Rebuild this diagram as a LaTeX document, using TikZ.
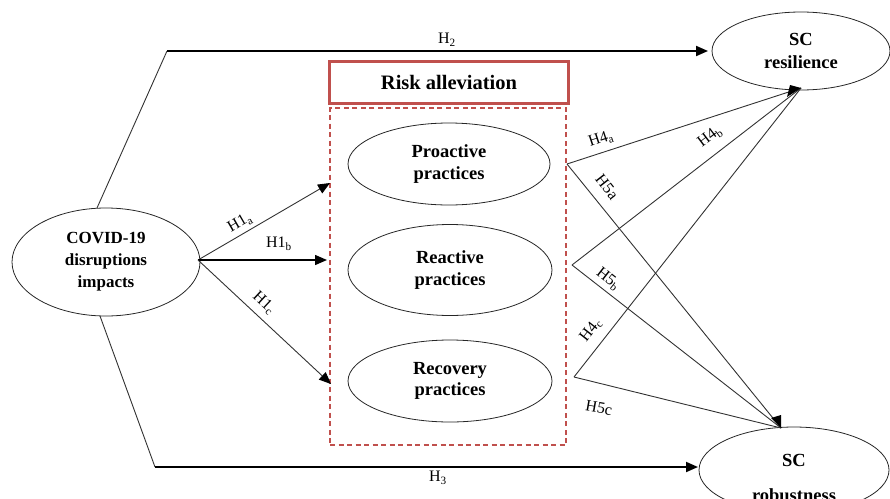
\documentclass[tikz,border=0pt]{standalone}
\usepackage{fontspec}
\setmainfont{Liberation Serif}
\usetikzlibrary{shapes.geometric,arrows.meta}
\definecolor{riskred}{RGB}{192,80,77}
\definecolor{lingray}{RGB}{50,50,50}
\tikzset{
  ell/.style={draw=black!85, line width=0.8pt, ellipse, inner sep=0pt, align=center, font=\bfseries\fontsize{18.5}{21.5}\selectfont},
  thin/.style={draw=lingray, line width=0.9pt},
  thick/.style={draw=black, line width=1.9pt},
  tipa/.style={-{Triangle[length=12pt,width=10pt,color=black]}},
  lab/.style={font=\fontsize{16}{18}\selectfont, inner sep=1pt},
  etext/.style={font=\bfseries\fontsize{18.5}{21.5}\selectfont, inner sep=0pt}
}
\begin{document}
\begin{tikzpicture}[x=1pt,y=-1pt]
\useasboundingbox (0,0) rectangle (890,498);
\clip (0,0) rectangle (890,498);
% nodes
\node[ell, minimum width=188pt, minimum height=108pt, font=\bfseries\fontsize{17}{22}\selectfont] (covid) at (106,262) {COVID-19\\disruptions\\impacts};
\node[ell, minimum width=178pt, minimum height=78pt, font=\bfseries\fontsize{18.5}{23}\selectfont] (res) at (801,51) {SC\\resilience};
\node[ell, minimum width=190pt, minimum height=86pt] (rob) at (794,470) {};
\node[etext, anchor=base] (robsc) at (794,466) {SC};
\node[etext, anchor=base] (robtx) at (794,501) {robustness};
\node[ell, minimum width=202pt, minimum height=82pt] (pro) at (449,164) {Proactive\\practices};
\node[ell, minimum width=204pt, minimum height=91pt] (rea) at (450,270) {Reactive\\practices};
\node[ell, minimum width=204pt, minimum height=82pt] (rec) at (450,381) {Recovery\\practices};
% risk alleviation boxes
\node[draw=riskred, line width=3pt, minimum width=239pt, minimum height=42pt, inner sep=0pt, font=\bfseries\fontsize{20.5}{22}\selectfont] (risk) at (449,82.5) {Risk alleviation};
\node[draw=riskred, dashed, dash pattern=on 5pt off 3.5pt, line width=1.6pt, minimum width=236pt, minimum height=337pt, inner sep=0pt] (dbox) at (448,276.5) {};
% coordinates
\coordinate (c2a) at (97,208);
\coordinate (c2b) at (167,51);
\coordinate (c3a) at (100,316);
\coordinate (c3b) at (155,467);
\coordinate (h2t) at (708,51);
\coordinate (h3t) at (698,467);
\coordinate (cs) at (198,260);
\coordinate (t1a) at (330,183);
\coordinate (t1b) at (327,260);
\coordinate (t1c) at (331,384);
\coordinate (ps) at (567,164);
\coordinate (rs) at (572,265);
\coordinate (cs2) at (574,377);
\coordinate (rest) at (801,88);
\coordinate (robt) at (781,428);
% H2 / H3
\draw[thin] (c2a) -- (c2b);
\draw[thick, tipa] (c2b) -- (h2t);
\draw[thin] (c3a) -- (c3b);
\draw[thick, tipa] (c3b) -- (h3t);
% H1
\draw[thin, tipa] (cs) -- (t1a);
\draw[draw=black, line width=1.4pt, tipa] (cs) -- (t1b);
\draw[thin, tipa] (cs) -- (t1c);
% H4 / H5
\draw[thin] (ps) -- (rest);
\draw[thin] (ps) -- (robt);
\draw[thin] (rs) -- (rest);
\draw[thin] (rs) -- (robt);
\draw[thin] (cs2) -- (rest);
\draw[thin] (cs2) -- (robt);
\fill[black] (rest) -- ++(-14,9) -- ++(3,-12) -- cycle;
\fill[black] (robt) -- ++(-10,-10) -- ++(10,-3) -- cycle;
% labels
\node[lab] (lh2) at (447,40) {H\textsubscript{2}};
\node[lab] (lh3) at (438,478) {H\textsubscript{3}};
\node[lab, rotate=30] (l1a) at (240,223) {H1\textsubscript{a}};
\node[lab] (l1b) at (279,244) {H1\textsubscript{b}};
\node[lab, rotate=-43] (l1c) at (264,303) {H1\textsubscript{c}};
\node[lab, rotate=18] (l4a) at (601,139) {H4\textsubscript{a}};
\node[lab, rotate=37] (l4b) at (710,137) {H4\textsubscript{b}};
\node[lab, rotate=-52] (l5a) at (607,187) {H5a};
\node[lab, rotate=-38] (l5b) at (608,279) {H5\textsubscript{b}};
\node[lab, rotate=52] (l4c) at (591,330) {H4\textsubscript{c}};
\node[lab, rotate=-10] (l5c) at (599,408) {H5c};
\end{tikzpicture}
\end{document}
